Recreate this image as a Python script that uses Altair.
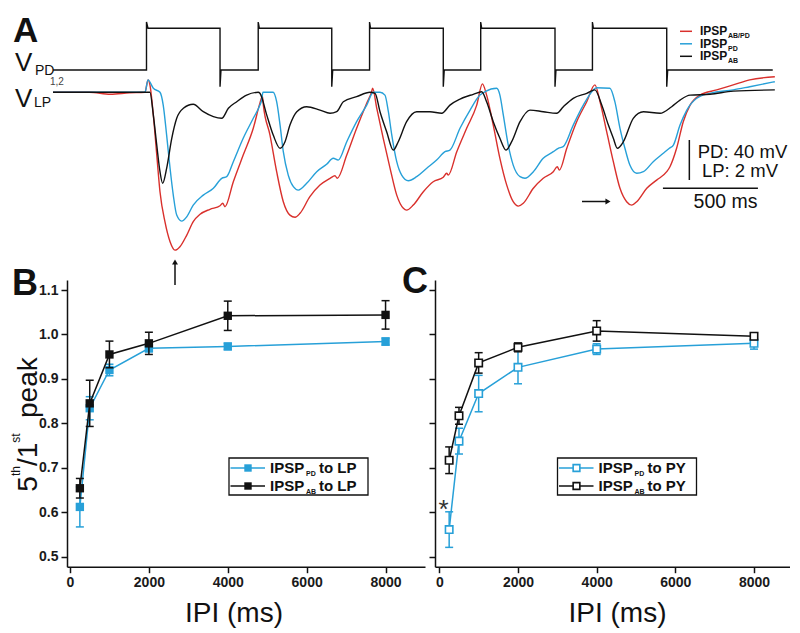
import altair as alt
import pandas as pd

FONT = "Liberation Sans"
RED = "#d9302c"
BLUE = "#27a0d8"
BLACK = "#111111"

# ---------------- Panel A: recorded traces ----------------
# time in ms (0 = first PD burst onset), LP in mV relative to rest
red_t = [-492, -300, -190, -90, -8, 8, 18, 36, 54, 71, 97, 124, 150, 176, 212, 246, 282, 334, 387, 401,
         413, 457, 509, 562, 597, 610, 615, 650, 685, 720, 755, 782, 808, 860, 913, 966, 992, 1004, 1054, 1106,
         1159, 1185, 1190, 1212, 1246, 1282, 1317, 1352, 1369, 1404, 1457, 1509, 1562, 1580, 1588, 1633, 1685, 1738, 1768, 1790,
         1825, 1860, 1896, 1930, 1957, 1983, 2036, 2088, 2141, 2162, 2173, 2212, 2264, 2317, 2360, 2387, 2422, 2457, 2492, 2527,
         2554, 2580, 2633, 2685, 2738, 2755, 2790, 2825, 2861, 2913, 3001, 3088, 3175, 3307]
red_v = [0, 0, -0.1, -0.03, 0, 0.62, 0.37, -1.14, -3.13, -4.97, -6.47, -7.47, -7.89, -7.72, -7.14, -6.47, -6.1, -5.85, -5.67, -5.55,
         -5.72, -4.47, -3.14, -1.8, -0.54, -0.19, -0.64, -2.14, -3.97, -5.47, -6.14, -6.25, -6.05, -5.22, -4.64, -4.3, -4.17, -4.3, -3.14, -1.8,
         -0.55, 0.03, 0.2, -0.8, -2.3, -3.8, -5.14, -5.8, -5.89, -5.64, -4.97, -4.47, -4.25, -4.05, -4.14, -2.97, -1.8, -0.64, 0.42, -0.14,
         -1.64, -3.3, -4.64, -5.47, -5.69, -5.55, -4.8, -4.3, -3.97, -3.72, -3.89, -2.8, -1.47, -0.47, 0.37, -0.47, -1.97, -3.47, -4.8, -5.47,
         -5.64, -5.47, -4.8, -4.39, -3.97, -3.72, -2.8, -1.47, -0.64, -0.14, 0.12, 0.37, 0.62, 0.78]

blue_t = [-492, -8, 8, 36, 71, 88, 106, 124, 141, 159, 185, 212, 246, 299, 352, 396, 422, 457, 509, 562,
          597, 606, 613, 666, 685, 703, 720, 746, 773, 799, 843, 896, 948, 983, 1009, 1054, 1106, 1159, 1194, 1229,
          1255, 1273, 1291, 1317, 1343, 1378, 1422, 1475, 1527, 1571, 1597, 1650, 1703, 1755, 1782, 1843, 1860, 1878, 1904, 1930,
          1966, 1992, 2036, 2088, 2141, 2167, 2193, 2246, 2299, 2352, 2369, 2439, 2465, 2492, 2518, 2544, 2580, 2615, 2667, 2720,
          2752, 2773, 2808, 2843, 2896, 2966, 3088, 3175, 3307]
blue_v = [0, 0, 0.62, 0.2, 0, -0.64, -2.14, -3.8, -5.14, -6.14, -6.44, -6.22, -5.64, -5.14, -4.8, -4.3, -4.22, -3.47, -2.3, -1.3,
          -0.64, -0.39, 0, 0, -0.47, -1.64, -2.97, -4.14, -4.72, -4.89, -4.55, -3.97, -3.6, -3.3, -3.39, -2.47, -1.47, -0.64, 0, 0,
          -0.14, -0.97, -2.14, -3.47, -4.14, -4.42, -4.22, -3.8, -3.39, -2.97, -2.89, -1.8, -0.89, -0.14, 0.03, 0.2, -0.14, -1.14, -2.64, -3.64,
          -4.22, -4.3, -3.97, -3.3, -2.97, -2.8, -2.72, -1.64, -0.64, 0.12, 0.23, 0.2, -0.47, -1.8, -2.8, -3.64, -4.05, -3.97, -3.47, -3.05,
          -2.8, -2.64, -1.64, -0.9, -0.3, -0.05, 0.12, 0.28, 0.53]

black_t = [-492, 18, 36, 54, 71, 85, 106, 133, 159, 194, 246, 299, 352, 396, 431, 475, 527, 588, 597, 633,
           667, 703, 729, 755, 791, 843, 913, 966, 1001, 1036, 1106, 1176, 1203, 1229, 1264, 1299, 1325, 1369, 1422, 1492,
           1554, 1597, 1650, 1720, 1764, 1790, 1825, 1860, 1892, 1922, 1966, 2018, 2088, 2159, 2194, 2246, 2317, 2360, 2396, 2431,
           2457, 2478, 2510, 2562, 2615, 2703, 2764, 2808, 2861, 2966, 3088, 3307]
black_v = [0, 0, -1.14, -2.64, -3.97, -4.55, -3.8, -2.3, -1.3, -0.8, -0.6, -0.97, -1.22, -1.3, -0.8, -0.47, -0.14, 0, -0.05, -1.14,
           -2.14, -2.8, -2.47, -1.64, -0.97, -0.72, -0.89, -1.05, -0.97, -0.47, -0.22, 0, -0.05, -0.97, -1.97, -2.89, -2.47, -1.47, -0.97, -0.97,
           -1.05, -0.64, -0.34, -0.1, 0.03, -0.47, -1.47, -2.3, -2.89, -2.47, -1.47, -0.89, -0.97, -1.05, -0.72, -0.3, -0.05, 0.12, -0.64, -1.64,
           -2.3, -2.8, -2.47, -1.3, -0.97, -1.05, -0.72, -0.39, -0.14, -0.1, 0.06, 0.12]

# PD membrane potential (mV above trough)
pd_t = [-492, 0, 0, 8, 387, 387, 392, 588, 588, 594, 975, 975, 980, 1174, 1174, 1179, 1562, 1562, 1567,
        1759, 1759, 1764, 2150, 2150, 2155, 2347, 2347, 2352, 2738, 2738, 2743, 3296]
pd_v = [0, 0, 48, 41.7, 41.7, -16.7, 0, 0, 48, 41.7, 41.7, -16.7, 0, 0, 48, 41.7, 41.7, -16.7, 0,
        0, 48, 41.7, 41.7, -16.7, 0, 0, 48, 41.7, 41.7, -16.7, 0, 0]

# scale bars: 500 ms (horizontal) and 2 mV LP (vertical)
bar_t = [2857, 2718]
bar_t2 = [2857, 3218]
bar_v = [-2.385, -4.8]
bar_v2 = [-4.385, -4.8]

# ---------------- Panels B and C ----------------
ipi = [250, 500, 1000, 2000, 4000, 8000]
b_pd_mean = [0.612, 0.834, 0.920, 0.969, 0.973, 0.984]
b_pd_err = [0.045, 0.026, 0.013, 0.008, 0.007, 0.008]
b_ab_mean = [0.654, 0.845, 0.955, 0.980, 1.042, 1.044]
b_ab_err = [0.022, 0.052, 0.030, 0.025, 0.033, 0.032]
c_pd_mean = [0.561, 0.760, 0.867, 0.926, 0.967, 0.980]
c_pd_err = [0.040, 0.029, 0.041, 0.037, 0.012, 0.013]
c_ab_mean = [0.717, 0.817, 0.936, 0.971, 1.008, 0.996]
c_ab_err = [0.030, 0.019, 0.023, 0.010, 0.023, 0.005]

x_ticks = [0, 2000, 4000, 6000, 8000]
y_ticks = [0.5, 0.6, 0.7, 0.8, 0.9, 1.0, 1.1]

one = pd.DataFrame({"k": [0]})


def txt(s, x, y, size, weight="normal", align="left", angle=0, color=BLACK):
    return alt.Chart(one).mark_text(
        text=s, fontSize=size, fontWeight=weight, align=align, baseline="alphabetic",
        angle=angle, color=color, font=FONT
    ).encode(x=alt.value(x), y=alt.value(y))


def hrule(x1, x2, y, color=BLACK, w=1.5):
    return alt.Chart(one).mark_rule(color=color, strokeWidth=w).encode(
        x=alt.value(x1), x2=alt.value(x2), y=alt.value(y))


def vrule(x, y1, y2, color=BLACK, w=1.5):
    return alt.Chart(one).mark_rule(color=color, strokeWidth=w).encode(
        x=alt.value(x), y=alt.value(y1), y2=alt.value(y2))


def tri(x, y, shape, size=35):
    return alt.Chart(one).mark_point(shape=shape, filled=True, size=size, color=BLACK, opacity=1).encode(
        x=alt.value(x), y=alt.value(y))


# ---------- Panel A ----------
xs = alt.Scale(domain=[-418.4, 3386.8], nice=False, zero=False)
lp_scale = alt.Scale(domain=[-8.135, 3.865], nice=False, zero=False)
pd_scale = alt.Scale(domain=[-185, 55], nice=False, zero=False)


def trace(t, v, color, scale, smooth=True):
    df = pd.DataFrame({"t": t, "v": v})
    df["i"] = range(len(df))
    mk = alt.Chart(df).mark_line(color=color, strokeWidth=1.4,
                                 interpolate="monotone" if smooth else "linear")
    return mk.encode(
        x=alt.X("t:Q", scale=xs, axis=None),
        y=alt.Y("v:Q", scale=scale, axis=None),
        order="i:Q",
    )


bars = pd.DataFrame({"t": bar_t, "t2": bar_t2, "v": bar_v, "v2": bar_v2})
scalebar = alt.Chart(bars).mark_rule(color=BLACK, strokeWidth=1.5).encode(
    x=alt.X("t:Q", scale=xs, axis=None), x2="t2:Q",
    y=alt.Y("v:Q", scale=lp_scale, axis=None), y2="v2:Q")

anchor = alt.Chart(one).mark_rect(opacity=0).encode(
    x=alt.value(-59), x2=alt.value(-50), y=alt.value(-7), y2=alt.value(-2))

a_layers = [
    anchor,
    trace(pd_t, pd_v, BLACK, pd_scale, smooth=False),
    trace(red_t, red_v, RED, lp_scale),
    trace(blue_t, blue_v, BLUE, lp_scale),
    trace(black_t, black_v, BLACK, lp_scale),
    scalebar,
    txt("A", -54, 26.8, 35, "bold"),
    txt("V", -52, 56, 26),
    txt("PD", -32, 60, 14),
    txt("1,2", -17, 70, 10, color="#444444"),
    txt("V", -52, 92, 26),
    txt("LP", -33, 92, 14),
    # legend
    hrule(613, 625, 16.3, RED), txt("IPSP", 633, 20.3, 12, "bold"), txt("AB/PD", 661, 23.3, 7, "bold"),
    hrule(613, 625, 28.8, BLUE), txt("IPSP", 633, 32.8, 12, "bold"), txt("PD", 661, 35.8, 7, "bold"),
    hrule(613, 625, 41.3, BLACK), txt("IPSP", 633, 45.3, 12, "bold"), txt("AB", 661, 48.3, 7, "bold"),
    # scale bar labels
    txt("PD: 40 mV", 675.5, 143, 18.5, align="center"),
    txt("LP: 2 mV", 673, 162, 18.5, align="center"),
    txt("500 ms", 658.5, 193, 19.5, align="center"),
    # arrows
    vrule(108, 270, 248), tri(108, 247, "triangle-up"),
    hrule(515, 539, 186.5), tri(541, 186.5, "triangle-right"),
]
panel_a = alt.layer(*a_layers).resolve_scale(y="independent").properties(width=723, height=240)

# ---------- Panels B, C ----------
y_scale = alt.Scale(domain=[0.4775, 1.1225], nice=False, zero=False)


def axis_x():
    return alt.Axis(values=x_ticks, format="d", title=None, grid=False, domainColor=BLACK, domainWidth=1.5,
                    tickColor=BLACK, tickWidth=1.5, tickSize=6, labelFontSize=14, labelFontWeight="bold",
                    labelColor="#1a1a1a", labelPadding=3, labelFont=FONT, labelFlush=False)


def axis_y(labels):
    return alt.Axis(values=y_ticks, format=".1f", title=None, grid=False, domainColor=BLACK, domainWidth=1.5,
                    tickColor=BLACK, tickWidth=1.5, tickSize=6, labels=labels, labelFontSize=14,
                    labelFontWeight="bold", labelColor="#1a1a1a", labelPadding=3, labelFont=FONT, labelFlush=False)


def series(mean, err, color, xscale, ylabels, open_marker):
    df = pd.DataFrame({"ipi": ipi, "m": mean, "e": err})
    df["lo"] = df["m"] - df["e"]
    df["hi"] = df["m"] + df["e"]
    X = alt.X("ipi:Q", scale=xscale, axis=axis_x())
    line = alt.Chart(df).mark_line(color=color, strokeWidth=1.5).encode(
        x=X, y=alt.Y("m:Q", scale=y_scale, axis=axis_y(ylabels)))
    err_l = alt.Chart(df).mark_rule(color=color, strokeWidth=1.5).encode(
        x=X, y=alt.Y("lo:Q", scale=y_scale, axis=axis_y(ylabels)), y2="hi:Q")
    caps = alt.Chart(df).transform_fold(["lo", "hi"], as_=["kind", "yv"]).mark_tick(
        orient="horizontal", size=8, thickness=1.5, color=color, opacity=1).encode(
        x=X, y=alt.Y("yv:Q", scale=y_scale, axis=axis_y(ylabels)))
    if open_marker:
        pts = alt.Chart(df).mark_point(shape="square", size=55, fill="white", filled=False, stroke=color,
                                       strokeWidth=1.6, opacity=1).encode(
            x=X, y=alt.Y("m:Q", scale=y_scale, axis=axis_y(ylabels)))
    else:
        pts = alt.Chart(df).mark_point(shape="square", size=70, filled=True, color=color, opacity=1).encode(
            x=X, y=alt.Y("m:Q", scale=y_scale, axis=axis_y(ylabels)))
    return [line, err_l, caps, pts]


def legend(dx, label_target, open_marker):
    out = [alt.Chart(one).mark_rect(fill="white", stroke=BLACK, strokeWidth=1.3).encode(
        x=alt.value(162 + dx), x2=alt.value(301 + dx), y=alt.value(178), y2=alt.value(215))]
    for row_y, color, sub in [(188, BLUE, "PD"), (206, BLACK, "AB")]:
        out.append(hrule(163.5 + dx, 198 + dx, row_y, color))
        if open_marker:
            out.append(alt.Chart(one).mark_point(shape="square", size=45, fill="white", filled=False,
                                                 stroke=color, strokeWidth=1.6, opacity=1).encode(
                x=alt.value(181 + dx), y=alt.value(row_y)))
        else:
            out.append(alt.Chart(one).mark_point(shape="square", size=55, filled=True, color=color,
                                                 opacity=1).encode(x=alt.value(181 + dx), y=alt.value(row_y)))
        out.append(txt("IPSP", 203 + dx, row_y + 5.3, 15, "bold"))
        out.append(txt(sub, 239 + dx, row_y + 8, 7, "bold"))
        out.append(txt(label_target, 252 + dx, row_y + 5.3, 15, "bold"))
    return out


bx = alt.Scale(domain=[-76, 9000], nice=False, zero=False)
cx = alt.Scale(domain=[-110, 8915], nice=False, zero=False)

b_layers = (series(b_pd_mean, b_pd_err, BLUE, bx, True, False)
            + series(b_ab_mean, b_ab_err, BLACK, bx, True, False)
            + legend(0, "to LP", False)
            + [txt("B", -55, 15, 36, "bold"),
               txt("IPI (ms)", 167, 341.7, 28, align="center"),
               txt("5", -30.3, 211.7, 28, angle=270),
               txt("th", -47, 196.1, 12, angle=270),
               txt("/1", -30.3, 186.1, 28, angle=270),
               txt("st", -47, 162.7, 12, angle=270),
               txt("peak", -30.3, 138, 28, angle=270)])
panel_b = alt.layer(*b_layers).properties(width=358, height=286.7)

c_layers = (series(c_pd_mean, c_pd_err, BLUE, cx, False, True)
            + series(c_ab_mean, c_ab_err, BLACK, cx, False, True)
            + legend(-39.5, "to PY", True)
            + [txt("C", -33, 13.3, 36, "bold"),
               txt("IPI (ms)", 182.5, 341.7, 28, align="center"),
               txt("*", 8.5, 238, 26, align="center", color="#333333")])
panel_c = alt.layer(*c_layers).properties(width=355, height=286.7)

chart = alt.vconcat(
    panel_a,
    alt.hconcat(panel_b, panel_c, spacing=10, bounds="flush"),
    spacing=25, bounds="flush",
).properties(padding=0).configure(font=FONT).configure_view(stroke=None)

chart.save("out.html", embed_options={"renderer": "svg", "actions": False})
